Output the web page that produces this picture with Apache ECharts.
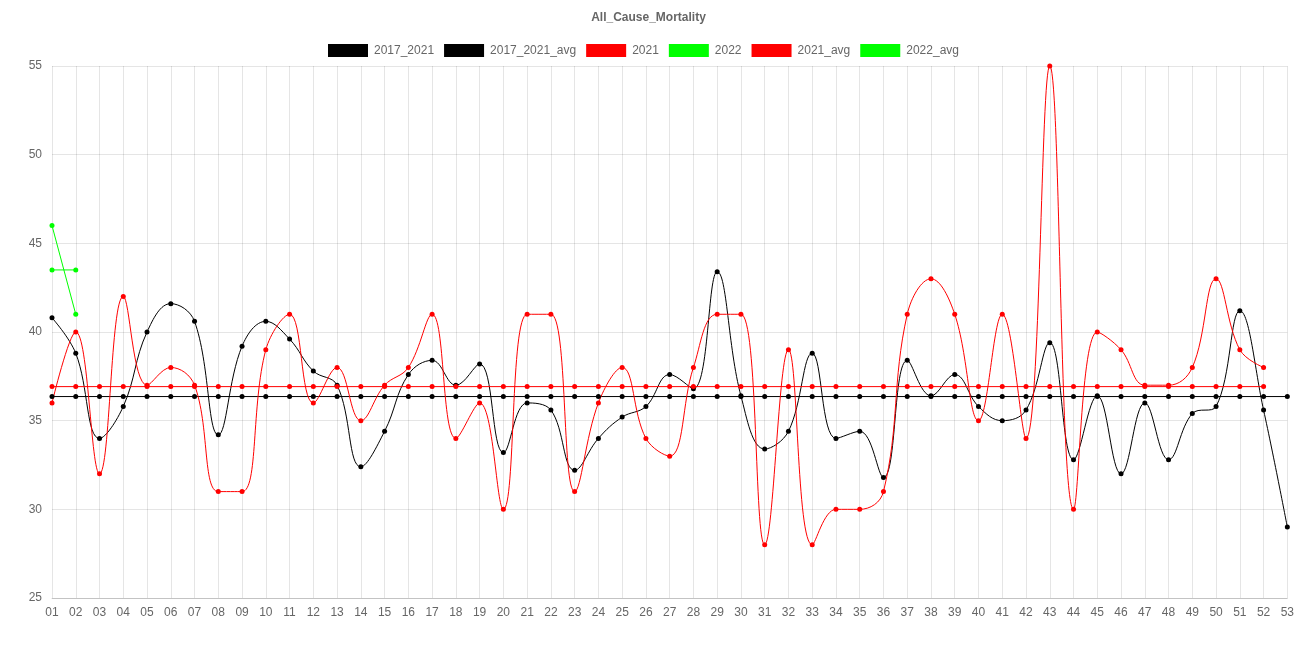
<!DOCTYPE html>
<html>
<head>
<meta charset="utf-8">
<script src="https://cdn.jsdelivr.net/npm/echarts@6/dist/echarts.min.js"></script>
<style>
html,body{margin:0;padding:0;background:#fff;}
#chart{width:1297px;height:648px;}
</style>
</head>
<body>
<div id="chart"></div>
<script>
const weeks = ['01','02','03','04','05','06','07','08','09','10','11','12','13','14','15','16','17','18','19','20','21','22','23','24','25','26','27','28','29','30','31','32','33','34','35','36','37','38','39','40','41','42','43','44','45','46','47','48','49','50','51','52','53'];

const s2017_2021 = [40.8,38.8,34.0,35.8,40.0,41.6,40.6,34.2,39.2,40.6,39.6,37.8,37.0,32.4,34.4,37.6,38.4,37.0,38.2,33.2,36.0,35.6,32.2,34.0,35.2,35.8,37.6,36.8,43.4,36.4,33.4,34.4,38.8,34.0,34.4,31.8,38.4,36.4,37.6,35.8,35.0,35.6,39.4,32.8,36.4,32.0,36.0,32.8,35.4,35.8,41.2,35.6,29.0];
const s2017_2021_avg = Array(53).fill(36.36);
const s2021 = [36,40,32,42,37,38,37,31,31,39,41,36,38,35,37,38,41,34,36,30,41,41,31,36,38,34,33,38,41,41,28,39,28,30,30,31,41,43,41,35,41,34,55,30,40,39,37,37,38,43,39,38];
const s2022 = [46,41];
const s2021_avg = Array(52).fill(36.92);
const s2022_avg = [43.5,43.5];

const yTicks = {min:25, max:55, interval:5};

const grid = 'rgba(0,0,0,0.1)';
const txt = '#666';
const font = 'Liberation Sans, Arial, sans-serif';

function mk(name, data, color, smooth){
  return {
    name, type:'line', data, smooth: smooth ? 0.4 : false,
    symbol:'circle', symbolSize:5, showSymbol:true,
    lineStyle:{color, width:1},
    itemStyle:{color},
    emphasis:{disabled:true},
    animation:false
  };
}

const chart = echarts.init(document.getElementById('chart'), null, {renderer:'canvas'});
chart.setOption({
  animation:false,
  backgroundColor:'#fff',
  title:{text:'All_Cause_Mortality', left:'center', top:7,
    textStyle:{fontSize:12, fontWeight:'bold', color:txt, fontFamily:font}},
  legend:{top:39, left:323, icon:'rect', itemWidth:40, itemHeight:13, itemGap:10,
    textStyle:{fontSize:12, color:txt, fontFamily:font, padding:[0,0,0,1]},
    data:['2017_2021','2017_2021_avg','2021','2022','2021_avg','2022_avg']},
  grid:{left:52, right:9, top:66, bottom:50, containLabel:false},
  xAxis:{type:'category', data:weeks, boundaryGap:false,
    axisLine:{show:true, lineStyle:{color:'rgba(0,0,0,0.15)'}},
    axisTick:{show:false},
    axisLabel:{color:txt, fontSize:12, fontFamily:font, margin:9, interval:0},
    splitLine:{show:true, lineStyle:{color:grid, width:1}}},
  yAxis:{type:'value', min:yTicks.min, max:yTicks.max, interval:yTicks.interval,
    axisLine:{show:false}, axisTick:{show:false},
    axisLabel:{color:txt, fontSize:12, fontFamily:font, margin:10},
    splitLine:{show:true, lineStyle:{color:grid, width:1}}},
  series:[
    mk('2017_2021', s2017_2021, '#000000', true),
    mk('2017_2021_avg', s2017_2021_avg, '#000000', false),
    mk('2021', s2021, '#ff0000', true),
    mk('2022', s2022, '#00ff00', false),
    mk('2021_avg', s2021_avg, '#ff0000', false),
    mk('2022_avg', s2022_avg, '#00ff00', false)
  ]
});
</script>
</body>
</html>
